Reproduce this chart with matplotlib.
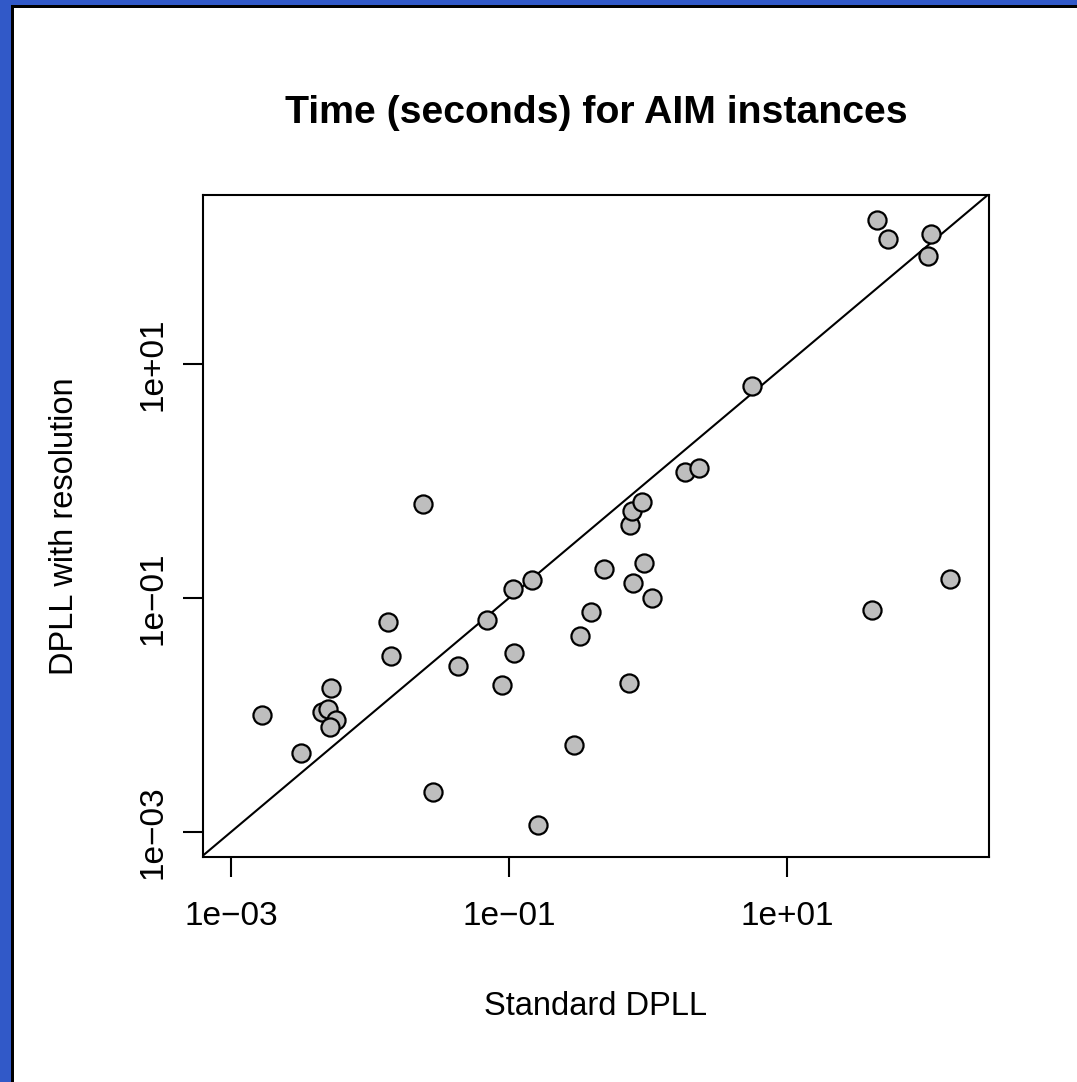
import matplotlib
matplotlib.use("Agg")
import matplotlib.pyplot as plt
from matplotlib.patches import Rectangle

plt.rcParams['font.family'] = ['Liberation Sans', 'DejaVu Sans']

# Data: time (seconds)
standard_dpll = [0.00167, 0.00319, 0.00452, 0.00499, 0.00524, 0.00569, 0.00515,
                 0.0135, 0.0142, 0.0240, 0.0284, 0.0430, 0.0695, 0.0891, 0.107,
                 0.109, 0.146, 0.162, 0.294, 0.324, 0.389, 0.482, 0.729, 0.741,
                 0.767, 0.780, 0.906, 0.935, 1.07, 1.85, 2.33, 5.60, 40.9, 44.4,
                 53.3, 103, 109, 149]
dpll_resolution = [0.0100, 0.00473, 0.0106, 0.0112, 0.0170, 0.00906, 0.00789,
                   0.0624, 0.0319, 0.635, 0.00220, 0.0262, 0.0649, 0.0180, 0.119,
                   0.0339, 0.143, 0.00115, 0.00555, 0.0473, 0.0759, 0.177, 0.0188,
                   0.421, 0.555, 0.134, 0.662, 0.199, 0.100, 1.19, 1.29, 6.49,
                   0.0789, 170, 117, 83.8, 129, 0.145]
tick_values = [1e-3, 1e-1, 1e1]
tick_labels = ['1e\u221203', '1e\u221201', '1e+01']

W, H = 1077, 1082
fig = plt.figure(figsize=(W / 100, H / 100), dpi=100)

# blue frame (left and top) with inner black line
fig.patches.append(Rectangle((0, 0), 11 / W, 1, transform=fig.transFigure,
                             facecolor='#3159C8', edgecolor='none', zorder=0))
fig.patches.append(Rectangle((0, 1 - 5 / H), 1, 5 / H, transform=fig.transFigure,
                             facecolor='#3159C8', edgecolor='none', zorder=0))
fig.patches.append(Rectangle((11 / W, 0), 2.5 / W, 1 - 5 / H, transform=fig.transFigure,
                             facecolor='black', edgecolor='none', zorder=0))
fig.patches.append(Rectangle((11 / W, 1 - 8 / H), 1, 3 / H, transform=fig.transFigure,
                             facecolor='black', edgecolor='none', zorder=0))

ax = fig.add_axes([203 / W, (H - 857) / H, 786 / W, 662 / H])
ax.set_xscale('log')
ax.set_yscale('log')
ax.set_xlim(10 ** -3.2014, 10 ** 2.453)
ax.set_ylim(10 ** -3.214, 10 ** 2.444)

ax.axline((1, 1), (10, 10), color='black', lw=1.5, zorder=1)
ax.scatter(standard_dpll, dpll_resolution, s=170, facecolor='#BEBEBE',
           edgecolor='black', linewidths=1.6, zorder=3)

ax.minorticks_off()
ax.set_xticks(tick_values)
ax.set_xticklabels(tick_labels)
ax.set_yticks(tick_values)
ax.set_yticklabels(tick_labels, rotation=90, va='center')
ax.tick_params(axis='both', length=14.5, width=1.5, labelsize=24)
ax.tick_params(axis='x', pad=17)
ax.tick_params(axis='y', pad=10)
for sp in ax.spines.values():
    sp.set_linewidth(1.5)

ax.set_title('Time (seconds) for AIM instances', fontsize=28.3, fontweight='bold', pad=52)
ax.set_xlabel('Standard DPLL', fontsize=23.5, labelpad=43)
ax.set_ylabel('DPLL with resolution', fontsize=23.5, labelpad=42)

fig.savefig('out.png', dpi=100)
